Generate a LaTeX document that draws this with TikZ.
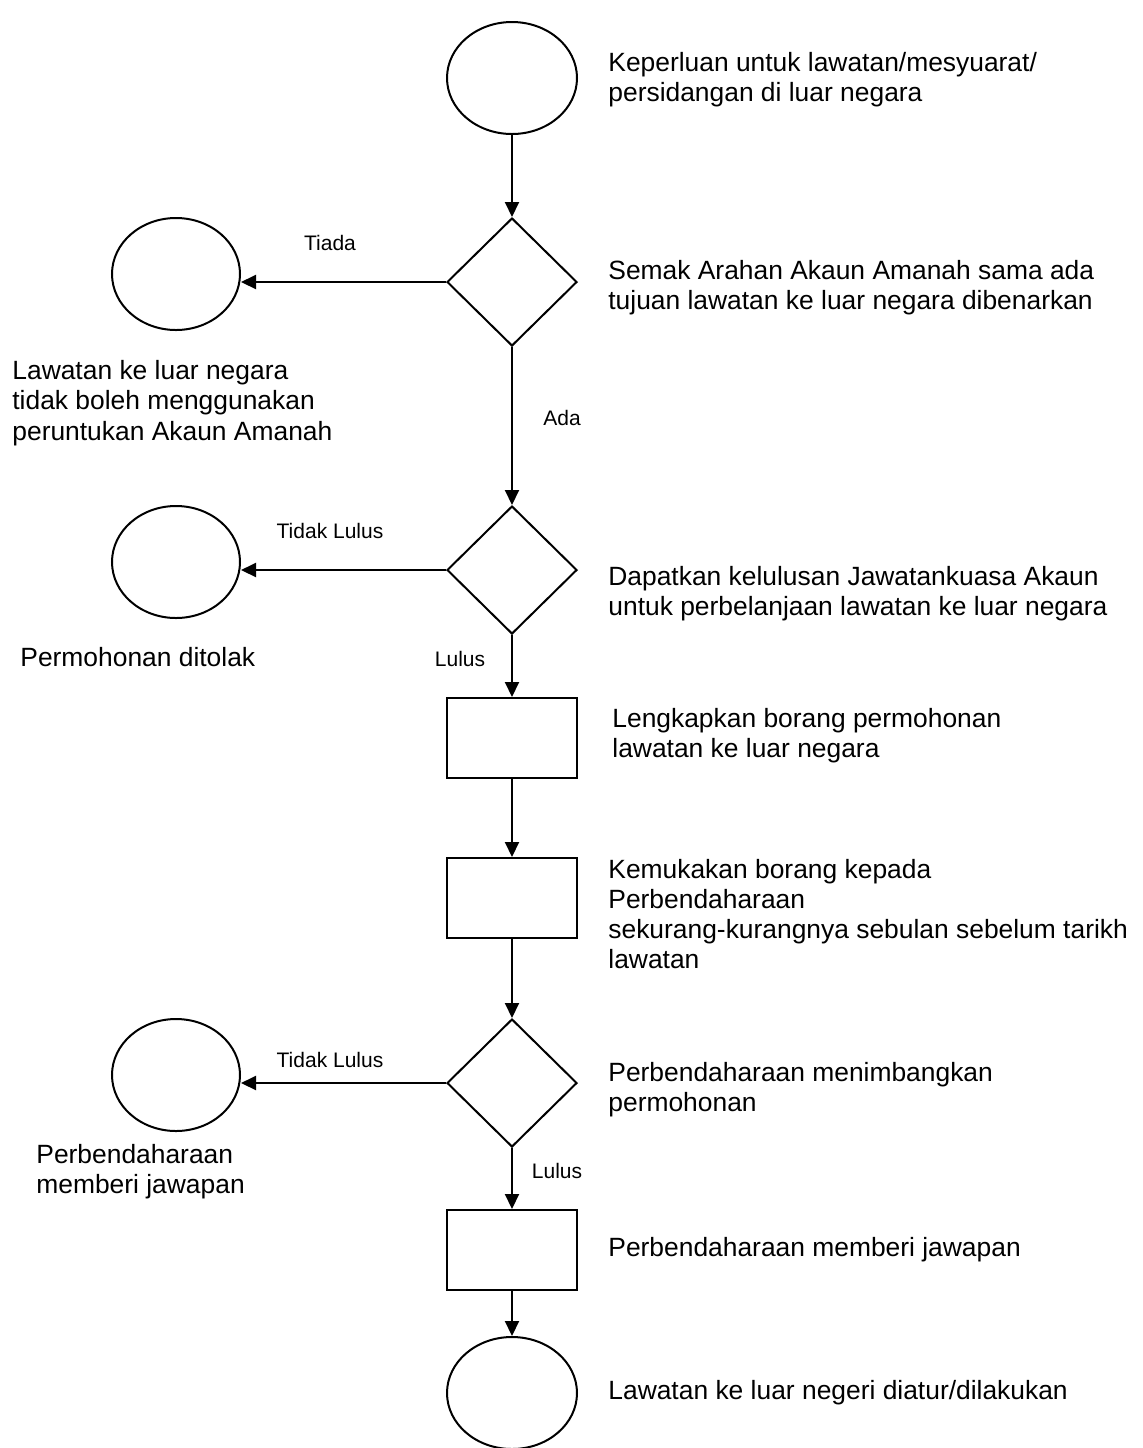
\documentclass[tikz,border=0pt]{standalone}
\usepackage{fontspec}
\setmainfont{Liberation Sans}
\usetikzlibrary{shapes.geometric,arrows.meta}

\tikzset{
  endpt/.style={draw, ellipse, line width=1pt, minimum width=65pt, minimum height=56pt, inner sep=0pt},
  sidept/.style={draw, ellipse, line width=1pt, minimum width=64pt, minimum height=56pt, inner sep=0pt},
  check/.style={draw, diamond, line width=1pt, minimum width=65pt, minimum height=64pt, inner sep=0pt},
  task/.style={draw, rectangle, line width=1pt, minimum width=65pt, minimum height=40pt, inner sep=0pt},
  note/.style={font=\fontsize{13.2}{15.1}\selectfont, align=left, inner sep=0pt, anchor=west},
  lbl/.style={font=\fontsize{10.5}{12}\selectfont, inner sep=0pt},
  flow/.style={-{Triangle[length=7.5pt,width=7pt]}, line width=1pt}
}

\begin{document}
\begin{tikzpicture}[x=0.5pt,y=-0.5pt]
\useasboundingbox (0,0) rectangle (1143,1448);

% main column
\node[endpt] (mula) at (512,78) {};
\node[check] (semak) at (512,282) {};
\node[check] (lulus) at (512,570) {};
\node[task] (borang) at (512,738) {};
\node[task] (kemuka) at (512,898) {};
\node[check] (timbang) at (512,1083) {};
\node[task] (jawapan) at (512,1250) {};
\node[endpt] (akhir) at (512,1393) {};

% side exits
\node[sidept] (tiada) at (176,274) {};
\node[sidept] (tolak) at (176,562) {};
\node[sidept] (balas) at (176,1075) {};

\draw[flow] (mula) -- (semak);
\draw[flow] (semak) -- (lulus);
\draw[flow] (lulus) -- (borang);
\draw[flow] (borang) -- (kemuka);
\draw[flow] (kemuka) -- (timbang);
\draw[flow] (timbang) -- (jawapan);
\draw[flow] (jawapan) -- (akhir);
\draw[flow] (semak.west) -- (semak.west -| tiada.east);
\draw[flow] (lulus.west) -- (lulus.west -| tolak.east);
\draw[flow] (timbang.west) -- (timbang.west -| balas.east);

\node[lbl] (lblTiada) at (330,243) {Tiada};
\node[lbl] (lblAda) at (562,418) {Ada};
\node[lbl] (lblTolak) at (330,531) {Tidak Lulus};
\node[lbl] (lblLulus) at (460,659) {Lulus};
\node[lbl] (lblTolak2) at (330,1060) {Tidak Lulus};
\node[lbl] (lblLulus2) at (557,1171) {Lulus};

\node[note] (txMula) at (608,80) {Keperluan untuk lawatan/mesyuarat/\\persidangan di luar negara};
\node[note] (txSemak) at (608,288) {Semak Arahan Akaun Amanah sama ada\\tujuan lawatan ke luar negara dibenarkan};
\node[note] (txLulus) at (608,594) {Dapatkan kelulusan Jawatankuasa Akaun\\untuk perbelanjaan lawatan ke luar negara};
\node[note] (txBorang) at (612,736) {Lengkapkan borang permohonan\\lawatan ke luar negara};
\node[note] (txKemuka) at (608,914) {Kemukakan borang kepada\\Perbendaharaan\\sekurang-kurangnya sebulan sebelum tarikh\\lawatan};
\node[note] (txTimbang) at (608,1090) {Perbendaharaan menimbangkan\\permohonan};
\node[note] (txJawapan) at (608,1250) {Perbendaharaan memberi jawapan};
\node[note] (txAkhir) at (608,1393) {Lawatan ke luar negeri diatur/dilakukan};

\node[note] (txTiada) at (12,403) {Lawatan ke luar negara\\tidak boleh menggunakan\\peruntukan Akaun Amanah};
\node[note] (txTolak) at (20,657) {Permohonan ditolak};
\node[note] (txBalas) at (36,1172) {Perbendaharaan\\memberi jawapan};
\end{tikzpicture}
\end{document}
